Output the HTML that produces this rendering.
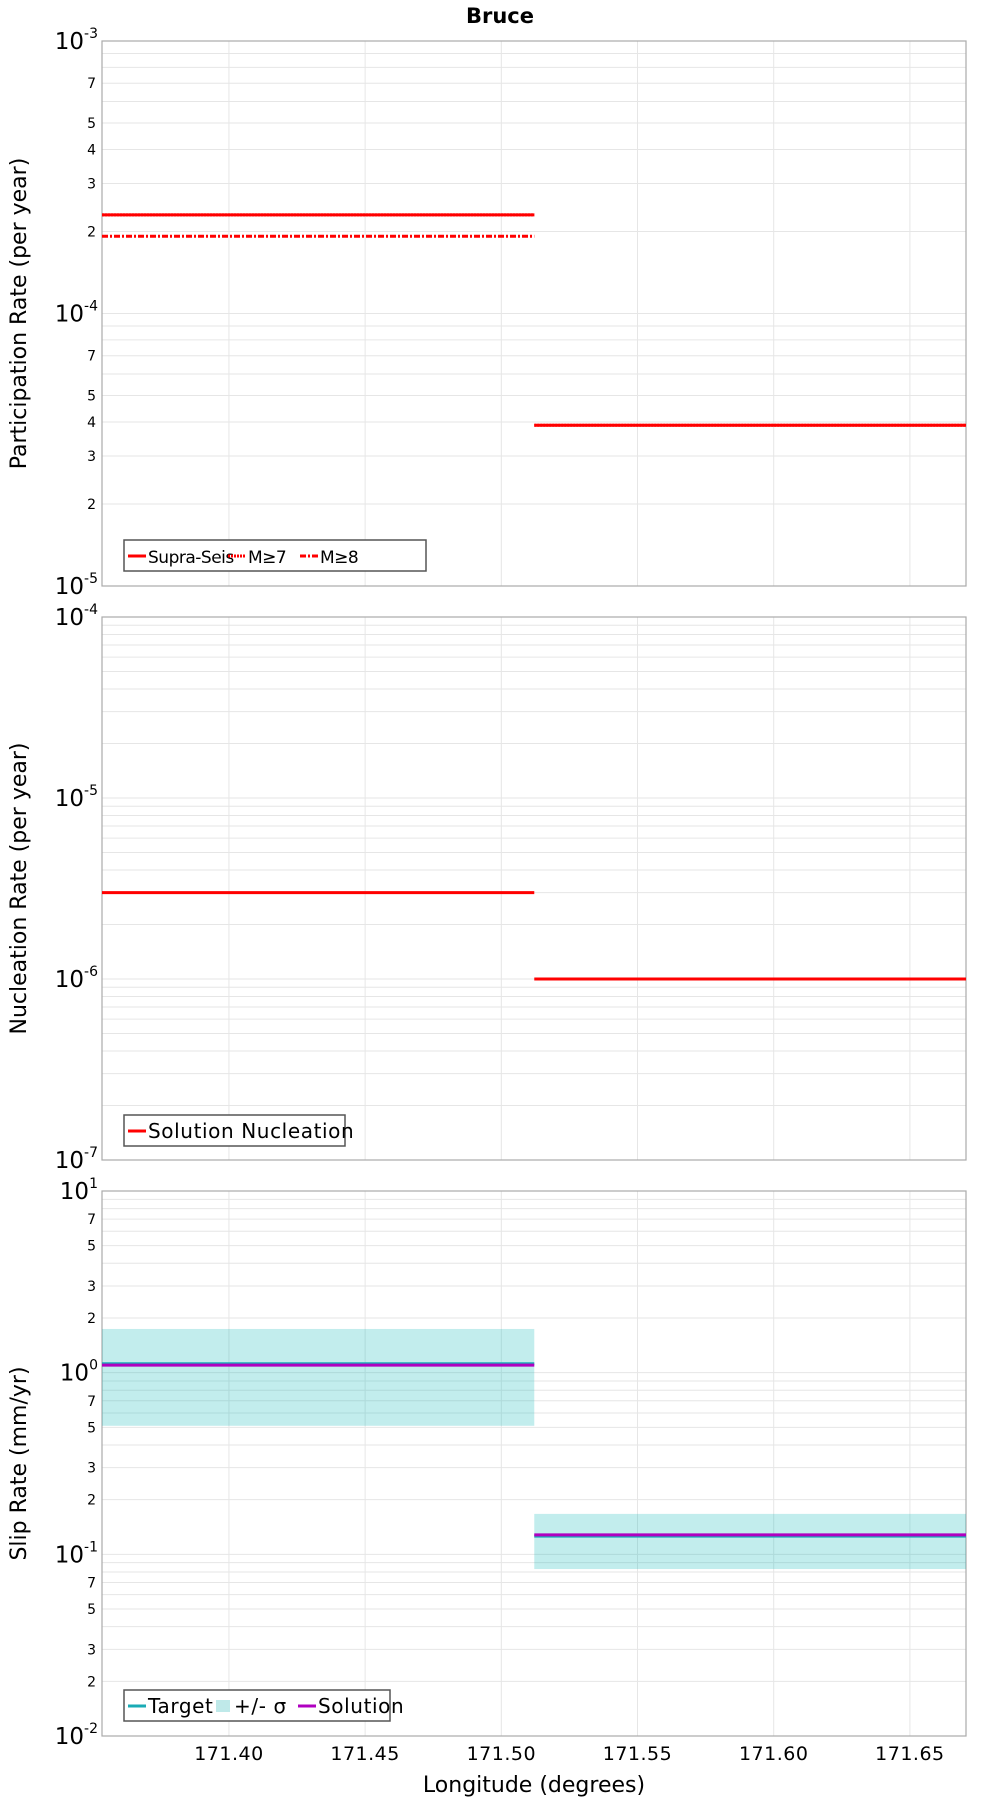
<!DOCTYPE html>
<html><head><meta charset="utf-8"><style>
body{margin:0;background:#fff;}
svg{display:block;font-family:"DejaVu Sans","Liberation Sans",sans-serif;}
</style></head><body>
<svg id="c" width="1000" height="1800" xmlns="http://www.w3.org/2000/svg">
<text x="500" y="23" text-anchor="middle" font-size="21" font-weight="bold">Bruce</text>
</svg>
<script>
const xTicks = [171.40, 171.45, 171.50, 171.55, 171.60, 171.65];
const xTickLabels = ["171.40","171.45","171.50","171.55","171.60","171.65"];
const xDomain = [171.3534, 171.6706];
const segStart = [171.3534, 171.5121];
const segEnd = [171.5121, 171.6706];
// panel 1
const supraSeis = [2.3e-4, 3.89e-5];
const m7 = [2.3e-4, 3.89e-5];
const m8 = [1.92e-4, null];
// panel 2
const nucleation = [3.0e-6, 1.0e-6];
// panel 3
const target = [1.12, 0.126];
const solution = [1.10, 0.128];
const sigmaLow = [0.51, 0.083];
const sigmaHigh = [1.74, 0.167];

const NS="http://www.w3.org/2000/svg";
const svg=document.getElementById('c');
const L=102,R=966;
function mk(tag,attrs,parent){const e=document.createElementNS(NS,tag);for(const k in attrs)e.setAttribute(k,attrs[k]);(parent||svg).appendChild(e);return e;}
function xs(v){return L+(v-xDomain[0])/(xDomain[1]-xDomain[0])*(R-L);}

function panel(name,top,bot,lo,hi,minorLabels,ylabel){
  const g=mk('g',{});
  
  
  const ys=v=>bot-(Math.log10(v)-lo)/(hi-lo)*(bot-top);
  for(let d=lo;d<hi;d++){for(let m=1;m<=9;m++){const v=m*Math.pow(10,d);const y=ys(v);
    const gl=mk('line',{x1:L,x2:R,y1:y,y2:y,stroke:'#e6e6e6','stroke-width':1},g);
    
    
    if(m>1&&minorLabels.includes(m)){const t=mk('text',{x:L-6,y:y+5,'text-anchor':'end','font-size':14},g);t.textContent=m;
      
      }
  }}
  for(let d=lo;d<=hi;d++){const y=ys(Math.pow(10,d));
    const t=mk('text',{x:L-4,y:y+8,'text-anchor':'end','font-size':23},g);
    
    
    const a=mk('tspan',{},t);a.textContent='10';
    const b=mk('tspan',{dy:-11,'font-size':14},t);b.textContent=String(d);
  }
  xTicks.forEach(v=>{const gl=mk('line',{x1:xs(v),x2:xs(v),y1:top,y2:bot,stroke:'#e6e6e6','stroke-width':1},g);
    
    });
  const fr=mk('rect',{x:L,y:top,width:R-L,height:bot-top,fill:'none',stroke:'#aaa','stroke-width':1.2},g);
  
  
  const cy=(top+bot)/2;
  const yl=mk('text',{x:0,y:0,transform:`translate(26,${cy}) rotate(-90)`,'text-anchor':'middle','font-size':22},g);
  yl.textContent=ylabel;
  
  
  return {g,ys};
}
function seg(g,ys,arr,color,w,dash,name){
  arr.forEach((v,i)=>{if(v==null)return;
    const l=mk('line',{x1:xs(segStart[i]),x2:xs(segEnd[i]),y1:ys(v),y2:ys(v),stroke:color,'stroke-width':w},g);
    if(dash)l.setAttribute('stroke-dasharray',dash);
    
    });
}
function legend(g,x,y,w,items,fs,ls){
  const lg=mk('g',{},g);
  
  
  mk('rect',{x:x,y:y,width:w,height:31,fill:'#fff',stroke:'#555','stroke-width':1.5},lg);
  let cx=x+4;
  items.forEach(it=>{
    if(it.box){mk('rect',{x:cx,y:y+10,width:14,height:12,fill:it.color},lg);cx+=18;}
    else{const l=mk('line',{x1:cx,x2:cx+18,y1:y+16,y2:y+16,stroke:it.color,'stroke-width':3},lg);if(it.dash)l.setAttribute('stroke-dasharray',it.dash);cx+=20;}
    const t=mk('text',{x:cx,y:y+23,'font-size':fs,'letter-spacing':ls},lg);t.textContent=it.label;
    
    
    cx+=it.tw;
  });
}
// Panel 1
let p=panel('participation',41,586,-5,-3,[2,3,4,5,7],'Participation Rate (per year)');
seg(p.g,p.ys,supraSeis,'#f00',3,null,'supra-seis-line');
seg(p.g,p.ys,m7,'#f00',3,'2,1','m7-line');
seg(p.g,p.ys,m8,'#f00',3,'6,2,2,2','m8-line');
legend(p.g,124,540,302,[{color:'#f00',label:'Supra-Seis',tw:80},{color:'#f00',dash:'2,1',label:'M≥7',tw:52},{color:'#f00',dash:'6,2,2,2',label:'M≥8',tw:40}],17,-0.5);
// Panel 2
p=panel('nucleation',617,1160,-7,-4,[],'Nucleation Rate (per year)');
seg(p.g,p.ys,nucleation,'#f00',3,null,'solution-nucleation-line');
legend(p.g,124,1115,221,[{color:'#f00',label:'Solution Nucleation',tw:195}],20,0.6);
// Panel 3
p=panel('slip',1191,1736,-2,1,[2,3,5,7],'Slip Rate (mm/yr)');
sigmaLow.forEach((v,i)=>{const r=mk('rect',{x:xs(segStart[i]),y:p.ys(sigmaHigh[i]),width:xs(segEnd[i])-xs(segStart[i]),height:p.ys(v)-p.ys(sigmaHigh[i]),fill:'rgba(0,180,180,0.24)'},p.g);
  
  });
seg(p.g,p.ys,target,'#1aabb5',3,null,'target-line');
seg(p.g,p.ys,solution,'#b000c0',3,null,'solution-line');
legend(p.g,124,1690,266,[{color:'#1aabb5',label:'Target',tw:68},{color:'#bfe9e9',box:true,label:'+/- σ',tw:64},{color:'#b000c0',label:'Solution',tw:80}],20,0.6);
// x axis
xTicks.forEach((v,i)=>{const t=mk('text',{x:xs(v),y:1760,'text-anchor':'middle','font-size':19,'letter-spacing':0.5});t.textContent=xTickLabels[i];
  
  });
const xl=mk('text',{x:534,y:1792,'text-anchor':'middle','font-size':22});xl.textContent='Longitude (degrees)';


</script>
</body></html>
